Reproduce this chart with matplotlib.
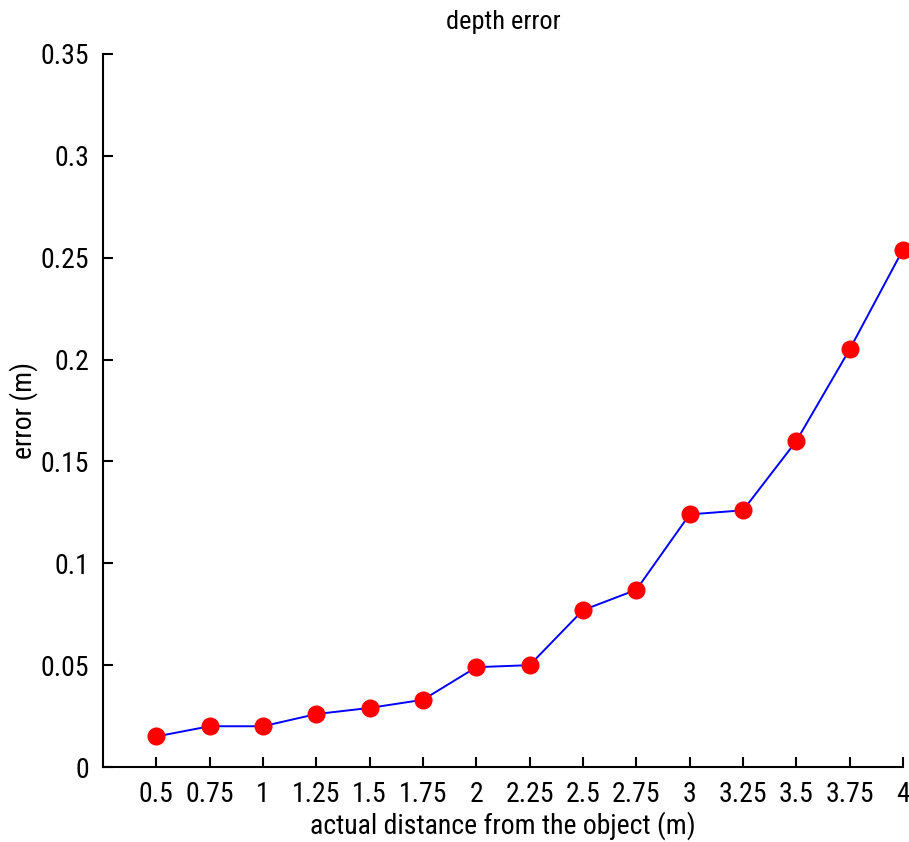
import matplotlib
matplotlib.use("Agg")
import matplotlib.pyplot as plt
from matplotlib import font_manager

distance = [0.5, 0.75, 1.0, 1.25, 1.5, 1.75, 2.0, 2.25, 2.5, 2.75, 3.0, 3.25, 3.5, 3.75, 4.0]
error = [0.015, 0.020, 0.020, 0.026, 0.029, 0.033, 0.049, 0.050, 0.077, 0.087, 0.124, 0.126, 0.160, 0.205, 0.254]
xtick_labels = ["0.5", "0.75", "1", "1.25", "1.5", "1.75", "2", "2.25", "2.5", "2.75", "3", "3.25", "3.5", "3.75", "4"]
yticks = [0, 0.05, 0.1, 0.15, 0.2, 0.25, 0.3, 0.35]
ytick_labels = ["0", "0.05", "0.1", "0.15", "0.2", "0.25", "0.3", "0.35"]

names = {f.name for f in font_manager.fontManager.ttflist}
fam = "DejaVu Sans"
for cand in ["Liberation Sans Narrow", "Arial Narrow", "Roboto Condensed", "Archivo Narrow",
             "PT Sans Narrow", "Pragati Narrow", "Open Sans Condensed"]:
    if cand in names:
        fam = cand
        break
plt.rcParams['font.family'] = [fam, 'DejaVu Sans']

W, H = 909, 842
fig = plt.figure(figsize=(W / 100, H / 100), dpi=100)
ax = fig.add_axes([103 / W, (H - 767) / H, (903 - 103) / W, (767 - 54) / H])

ax.plot(distance, error, color='blue', lw=1.4, marker='o', markersize=12,
        markerfacecolor='red', markeredgecolor='red', clip_on=False, zorder=3)

ax.set_xlim(0.25, 4.0)
ax.set_ylim(0, 0.35)
ax.set_xticks(distance)
ax.set_xticklabels(xtick_labels)
ax.set_yticks(yticks)
ax.set_yticklabels(ytick_labels)
ax.spines['top'].set_visible(False)
ax.spines['right'].set_visible(False)
for s in ('left', 'bottom'):
    ax.spines[s].set_linewidth(1.5)
ax.tick_params(direction='in', length=7, width=1.5, labelsize=20, pad=10, colors='black')

ax.set_title("depth error", fontsize=19, y=(767 - 22) / 713, va='center', pad=0)
ax.set_xlabel("actual distance from the object (m)", fontsize=20, va='center')
ax.xaxis.set_label_coords(0.5, (767 - 826) / 713)
ax.set_ylabel("error (m)", fontsize=20, va='center')
ax.yaxis.set_label_coords((24 - 103) / 800, 0.5)

fig.savefig("out.png", dpi=100)
